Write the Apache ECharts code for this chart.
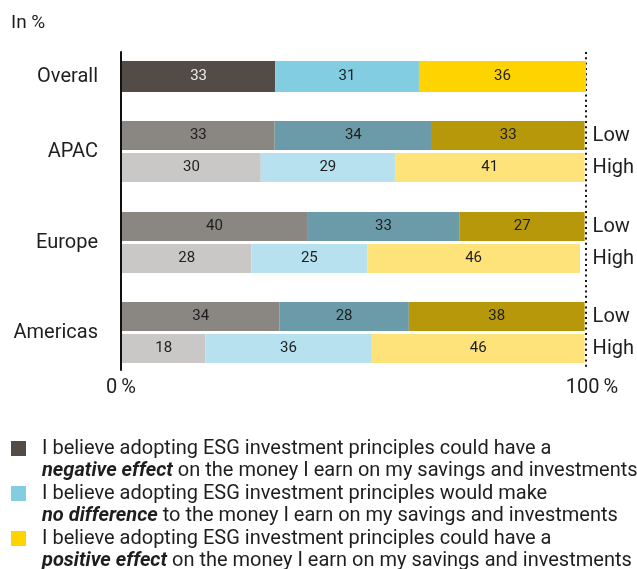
<!DOCTYPE html>
<html>
<head>
<meta charset="utf-8">
<title>ESG investment principles and returns</title>
<script src="https://cdn.jsdelivr.net/npm/echarts@6/dist/echarts.min.js"></script>
<style>
  html, body { margin: 0; padding: 0; background: #ffffff; }
  #chart { width: 637px; height: 569px; }
</style>
</head>
<body>
<div id="chart"></div>
<script>
// Survey shares in percent, one entry per bar row (top to bottom)
const rowGroup = ['Overall', 'APAC', 'APAC', 'Europe', 'Europe', 'Americas', 'Americas'];
const rowLevel = ['Overall', 'Low', 'High', 'Low', 'High', 'Low', 'High'];
const negativeEffect = [33, 33, 30, 40, 28, 34, 18];
const noDifference = [31, 34, 29, 33, 25, 28, 36];
const positiveEffect = [36, 33, 41, 27, 46, 38, 46];

const groups = ['Overall', 'APAC', 'Europe', 'Americas'];

// Legend wording
const answerKeys = ['negative effect', 'no difference', 'positive effect'];
const answerLead = [
  'I believe adopting ESG investment principles could have a',
  'I believe adopting ESG investment principles would make',
  'I believe adopting ESG investment principles could have a'
];
const answerTail = [
  ' on the money I earn on my savings and investments',
  ' to the money I earn on my savings and investments',
  ' on the money I earn on my savings and investments'
];

// Colour shades per answer, by row level
const palette = [
  { Overall: '#534b46', Low: '#8a8782', High: '#c9c8c6' },
  { Overall: '#82cde2', Low: '#6b9ba8', High: '#b7e1ee' },
  { Overall: '#fdd300', Low: '#b8980b', High: '#fee37b' }
];
const answerValues = [negativeEffect, noDifference, positiveEffect];

const FONT = 'Roboto, "Noto Sans", sans-serif';
const TEXT = '#1e1e1e';

// Vertical placement of each group block (px)
const blocks = [
  { top: 61, height: 31, bar: 31 },
  { top: 119.5, height: 64, bar: 29 },
  { top: 210.5, height: 64, bar: 29 },
  { top: 300.5, height: 64, bar: 29 }
];

const grids = [{ left: 121, right: 51, top: 52, bottom: 199 }];
const xAxes = [{
  gridIndex: 0, type: 'value', min: 0, max: 100, interval: 100,
  axisLine: { show: false }, axisTick: { show: false },
  splitLine: { show: true, lineStyle: { color: '#111', width: 2, type: [2, 3.3] } },
  axisLabel: {
    margin: 8,
    formatter: v => v === 100 ? '{m|' + v + '\u2009%}' : '{a|' + v + '\u2009%}',
    rich: {
      a: { fontFamily: FONT, fontSize: 20, color: TEXT },
      m: { fontFamily: FONT, fontSize: 20, color: TEXT, padding: [0, 0, 0, 12] }
    }
  }
}];
const yAxes = [{
  gridIndex: 0, type: 'category', data: [''],
  axisLine: { show: true, lineStyle: { color: '#111', width: 2 } },
  axisTick: { show: false }, axisLabel: { show: false }
}];
const series = [];

groups.forEach((g, gi) => {
  const b = blocks[gi];
  const gridIndex = gi + 1;
  grids.push({ left: 122, right: 51, top: b.top, height: b.height });
  xAxes.push({ gridIndex, type: 'value', min: 0, max: 100, show: false });
  const rows = rowGroup.map((name, i) => name === g ? i : -1).filter(i => i >= 0);
  const leftIndex = yAxes.length;
  yAxes.push({
    gridIndex, type: 'category', data: [g], inverse: true, position: 'left',
    axisLine: { show: false }, axisTick: { show: false },
    axisLabel: { margin: 24, fontFamily: FONT, fontSize: 20, color: TEXT }
  });
  let barAxis = leftIndex;
  if (g !== 'Overall') {
    barAxis = yAxes.length;
    yAxes.push({
      gridIndex, type: 'category', data: rows.map(i => rowLevel[i]), inverse: true, position: 'right',
      axisLine: { show: false }, axisTick: { show: false },
      axisLabel: { margin: 8, fontFamily: FONT, fontSize: 20, color: TEXT }
    });
  }
  answerKeys.forEach((key, ai) => {
    series.push({
      name: key,
      type: 'bar',
      stack: 'stack' + gi,
      xAxisIndex: gridIndex,
      yAxisIndex: barAxis,
      barWidth: b.bar,
      itemStyle: { color: palette[ai].Overall },
      label: {
        show: true, position: 'inside',
        fontFamily: FONT, fontSize: 15, color: TEXT
      },
      emphasis: { disabled: true },
      data: rows.map(i => ({
        value: answerValues[ai][i],
        itemStyle: { color: palette[ai][rowLevel[i]] },
        label: (ai === 0 && rowLevel[i] === 'Overall') ? { color: '#ececec' } : undefined
      }))
    });
  });
});

const chart = echarts.init(document.getElementById('chart'), null, { renderer: 'canvas' });
chart.setOption({
  animation: false,
  backgroundColor: '#ffffff',
  title: {
    text: 'In %', left: 11, top: 14, padding: 0,
    textStyle: { fontFamily: FONT, fontSize: 19, fontWeight: 'normal', color: TEXT }
  },
  legend: {
    orient: 'vertical', left: 11, top: 438, height: 150, padding: 0,
    itemWidth: 15, itemHeight: 44, itemGap: 1,
    selectedMode: false,
    icon: 'path://M0,0L0,0 M0,3L15,3L15,18L0,18Z M0,44L0,44',
    data: answerKeys.map((k, i) => ({ name: k, itemStyle: { color: palette[i].Overall } })),
    formatter: name => {
      const i = answerKeys.indexOf(name);
      return '{n|' + answerLead[i] + '}\n{b|' + answerKeys[i] + '}{n|' + answerTail[i] + '}';
    },
    textStyle: {
      padding: [0, 0, 0, 11],
      rich: {
        n: { fontFamily: FONT, fontSize: 20, lineHeight: 22, color: TEXT },
        b: { fontFamily: FONT, fontSize: 20, lineHeight: 22, color: TEXT, fontWeight: 'bold', fontStyle: 'italic' }
      }
    }
  },
  grid: grids,
  xAxis: xAxes,
  yAxis: yAxes,
  series: series
});
</script>
</body>
</html>
